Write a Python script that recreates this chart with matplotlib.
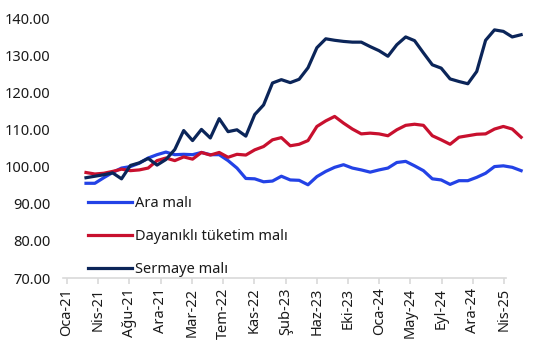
import numpy as np
import matplotlib
matplotlib.use("Agg")
import matplotlib.pyplot as plt

plt.rcParams['font.family'] = ['Noto Sans', 'DejaVu Sans']

ara = [95.5, 95.5, 97.0, 98.4, 99.6, 100.0, 100.9, 102.3, 103.2, 103.9,
       103.2, 103.3, 103.2, 103.8, 103.2, 103.2, 101.6, 99.6, 96.8, 96.7,
       95.9, 96.1, 97.4, 96.4, 96.3, 95.1, 97.3, 98.7, 99.8, 100.5,
       99.6, 99.1, 98.5, 99.1, 99.6, 101.1, 101.4, 100.2, 98.9, 96.7,
       96.4, 95.2, 96.2, 96.2, 97.1, 98.2, 100.0, 100.2, 99.8, 98.9]
dayanikli = [98.4, 98.0, 98.2, 98.7, 99.3, 98.9, 99.1, 99.6, 101.6, 102.3,
             101.6, 102.6, 102.0, 103.8, 103.1, 103.8, 102.5, 103.3, 103.1, 104.5,
             105.4, 107.2, 107.8, 105.6, 106.0, 107.0, 110.8, 112.3, 113.5, 111.7,
             110.1, 108.8, 109.0, 108.8, 108.3, 109.9, 111.1, 111.4, 111.1, 108.3,
             107.2, 106.0, 107.9, 108.3, 108.7, 108.8, 110.1, 110.8, 110.1, 107.9]
sermaye = [97.0, 97.4, 97.8, 98.3, 96.7, 100.3, 101.0, 102.2, 100.4, 101.9,
           104.6, 109.7, 107.0, 110.0, 107.7, 112.9, 109.4, 109.9, 108.2, 114.0,
           116.6, 122.5, 123.4, 122.6, 123.5, 126.6, 132.0, 134.4, 134.0, 133.7,
           133.5, 133.5, 132.3, 131.2, 129.7, 132.8, 134.9, 133.9, 130.6, 127.4,
           126.5, 123.6, 122.9, 122.3, 125.6, 134.0, 136.8, 136.4, 134.9, 135.5]
tick_labels = ["Oca-21", "Nis-21", "Ağu-21", "Ara-21", "Mar-22", "Tem-22", "Kas-22",
               "Şub-23", "Haz-23", "Eki-23", "Oca-24", "May-24", "Eyl-24", "Ara-24", "Nis-25"]
series_names = ["Ara malı", "Dayanıklı tüketim malı", "Sermaye malı"]
colors = ["#2342E6", "#C8102E", "#0B2559"]

W, H = 545, 352
fig = plt.figure(figsize=(W/100, H/100), dpi=100)
left_px, right_px = 63, 527
bot_px, top_px = 278, 18
ax = fig.add_axes([left_px/W, 1 - bot_px/H, (right_px-left_px)/W, (bot_px-top_px)/H])

x = np.arange(len(ara))
step = 8.88
x0_px = 86
for vals, name, c in zip([ara, dayanikli, sermaye], series_names, colors):
    ax.plot(x, vals, color=c, lw=2.3, label=name, solid_joinstyle='round', clip_on=False)

ax.set_xlim((left_px - x0_px)/step, (right_px - x0_px)/step)
ax.set_ylim(70, 140)
ticks = (67 - x0_px)/step + np.arange(len(tick_labels)) * (504 - 67)/14/step
ax.set_xticks(ticks)
ax.set_xticklabels(tick_labels, rotation=90, fontsize=10.5, color="#1a1a1a")
ax.set_yticks(np.arange(70, 141, 10))
ax.set_yticklabels([f"{v:.2f}" for v in np.arange(70, 141, 10)], fontsize=10.5, color="#1a1a1a")

for s in ["top", "right", "left"]:
    ax.spines[s].set_visible(False)
ax.spines["bottom"].set_color("#D9D9D9")
ax.spines["bottom"].set_linewidth(1.2)
ax.spines["bottom"].set_bounds((left_px - x0_px)/step, (506 - x0_px)/step)
ax.tick_params(axis='x', direction='out', length=4, color="#D9D9D9", width=1.2, pad=3)
ax.tick_params(axis='y', length=0, pad=9)

leg = ax.legend(loc='upper left', bbox_to_anchor=((88 - left_px)/(right_px-left_px), 1 - (196 - top_px)/(bot_px-top_px)),
                frameon=False, fontsize=10.5, handlelength=3.0, handletextpad=0.25,
                labelspacing=1.25, borderaxespad=0, borderpad=0)
for t in leg.get_texts():
    t.set_color("#1a1a1a")

fig.savefig("out.png", dpi=100)
